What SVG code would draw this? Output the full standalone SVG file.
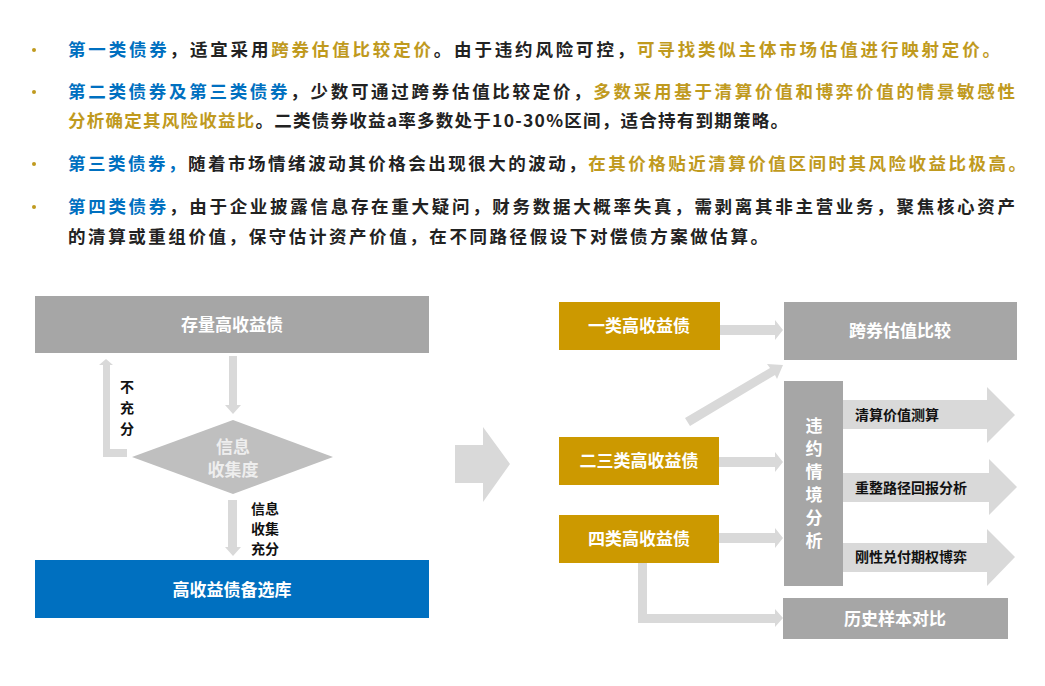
<svg xmlns="http://www.w3.org/2000/svg" width="1045" height="686" viewBox="0 0 1045 686">
<style>
.t{font-family:"Noto Sans CJK SC","Noto Sans",sans-serif;font-size:17.5px;font-weight:bold;fill:#222}
.b{fill:#0070C0}.g{fill:#C09A1E}
.dot{fill:#C09A1E}
.w{font-family:"Noto Sans CJK SC",sans-serif;font-size:17px;font-weight:bold;fill:#fff;text-anchor:middle}
.k{font-family:"Noto Sans CJK SC",sans-serif;font-size:14px;font-weight:bold;fill:#111}
.ar{fill:#D9D9D9}
</style>
<rect width="1045" height="686" fill="#fff"/>
<g id="text">
<circle class="dot" cx="34" cy="50" r="2"/><circle class="dot" cx="34" cy="92" r="2"/><circle class="dot" cx="34" cy="164" r="2"/><circle class="dot" cx="34" cy="207" r="2"/>
<text class="t" x="68" y="56" textLength="932" lengthAdjust="spacing"><tspan class="b">第一类债券</tspan>，适宜采用<tspan class="g">跨券估值比较定价</tspan>。由于违约风险可控，<tspan class="g">可寻找类似主体市场估值进行映射定价。</tspan></text>
<text class="t" x="68" y="98" textLength="947" lengthAdjust="spacing"><tspan class="b">第二类债券及第三类债券</tspan>，少数可通过跨券估值比较定价，<tspan class="g">多数采用基于清算价值和博弈价值的情景敏感性</tspan></text>
<text class="t" x="68" y="127" textLength="720" lengthAdjust="spacing"><tspan class="g">分析确定其风险收益比</tspan>。二类债券收益a率多数处于10-30%区间，适合持有到期策略。</text>
<text class="t" x="68" y="170" textLength="958" lengthAdjust="spacing"><tspan class="b">第三类债券，</tspan>随着市场情绪波动其价格会出现很大的波动，<tspan class="g">在其价格贴近清算价值区间时其风险收益比极高。</tspan></text>
<text class="t" x="68" y="213" textLength="947" lengthAdjust="spacing"><tspan class="b">第四类债券</tspan>，由于企业披露信息存在重大疑问，财务数据大概率失真，需剥离其非主营业务，聚焦核心资产</text>
<text class="t" x="68" y="243" textLength="700" lengthAdjust="spacing">的清算或重组价值，保守估计资产价值，在不同路径假设下对偿债方案做估算。</text>
</g>
<g id="connectors">
<polygon class="ar" points="229,356 237,356 237,405 241,405 233,414 225,405 229,405"/>
<polygon class="ar" points="103,457 103,365 99,365 106,359 113,365 110,365 110,449 127,449 127,457"/>
<polygon class="ar" points="228,500 237,500 237,547 241,547 233,556 225,547 228,547"/>
<polygon class="ar" points="455,445 483,445 483,427 510,464 483,502 483,483 455,483"/>
<polygon class="ar" points="720,325 775,325 775,320 783,330 775,340 775,335 720,335"/>
<polygon class="ar" points="685,418 770,368 767,364 783,365 777,379 775,375 690,426"/>
<polygon class="ar" points="719,457 775,457 775,452 783,462 775,472 775,467 719,467"/>
<polygon class="ar" points="719,533 775,533 775,528 783,538 775,548 775,543 719,543"/>
<polygon class="ar" points="638,563 647,563 647,614 775,614 775,609 783,618 775,627 775,623 638,623"/>
<polygon class="ar" points="843,400 987,400 987,387 1015,415 987,443 987,429 843,429"/>
<polygon class="ar" points="843,473 989,473 989,459 1017,487 989,515 989,502 843,502"/>
<polygon class="ar" points="843,543 987,543 987,529 1015,557 987,586 987,572 843,572"/>
</g>
<g id="n-stock"><rect x="35" y="296" width="394" height="57" fill="#A6A6A6"/><text class="w" x="232" y="331">存量高收益债</text></g>
<g id="n-diamond"><polygon points="132,457 233,420 333,457 233,494" fill="#BFBFBF"/><text class="w" x="233" y="453" style="fill:#eee">信息</text><text class="w" x="233" y="476" style="fill:#eee">收集度</text></g>
<g id="l-insuf"><text class="k" x="120" y="392">不</text><text class="k" x="120" y="413">充</text><text class="k" x="120" y="434">分</text></g>
<g id="l-suf"><text class="k" x="251" y="514">信息</text><text class="k" x="251" y="534">收集</text><text class="k" x="251" y="554">充分</text></g>
<g id="n-pool"><rect x="35" y="560" width="394" height="58" fill="#0070C0"/><text class="w" x="232" y="596">高收益债备选库</text></g>
<g id="n-c1"><rect x="559" y="302" width="161" height="48" fill="#CC9900"/><text class="w" x="639" y="332">一类高收益债</text></g>
<g id="n-c23"><rect x="559" y="437" width="160" height="48" fill="#CC9900"/><text class="w" x="639" y="467">二三类高收益债</text></g>
<g id="n-c4"><rect x="559" y="515" width="160" height="48" fill="#CC9900"/><text class="w" x="639" y="545">四类高收益债</text></g>
<g id="n-cross"><rect x="784" y="302" width="233" height="58" fill="#A6A6A6"/><text class="w" x="900" y="337">跨券估值比较</text></g>
<g id="n-default"><rect x="784" y="381" width="59" height="205" fill="#A6A6A6"/>
<text class="w" x="814" y="432">违</text><text class="w" x="814" y="455">约</text><text class="w" x="814" y="478">情</text><text class="w" x="814" y="501">境</text><text class="w" x="814" y="524">分</text><text class="w" x="814" y="547">析</text></g>
<g id="n-liq"><text class="k" x="855" y="420">清算价值测算</text></g>
<g id="n-reorg"><text class="k" x="855" y="493">重整路径回报分析</text></g>
<g id="n-rigid"><text class="k" x="855" y="562">刚性兑付期权博弈</text></g>
<g id="n-hist"><rect x="783" y="598" width="225" height="41" fill="#A6A6A6"/><text class="w" x="895" y="625">历史样本对比</text></g>
</svg>
